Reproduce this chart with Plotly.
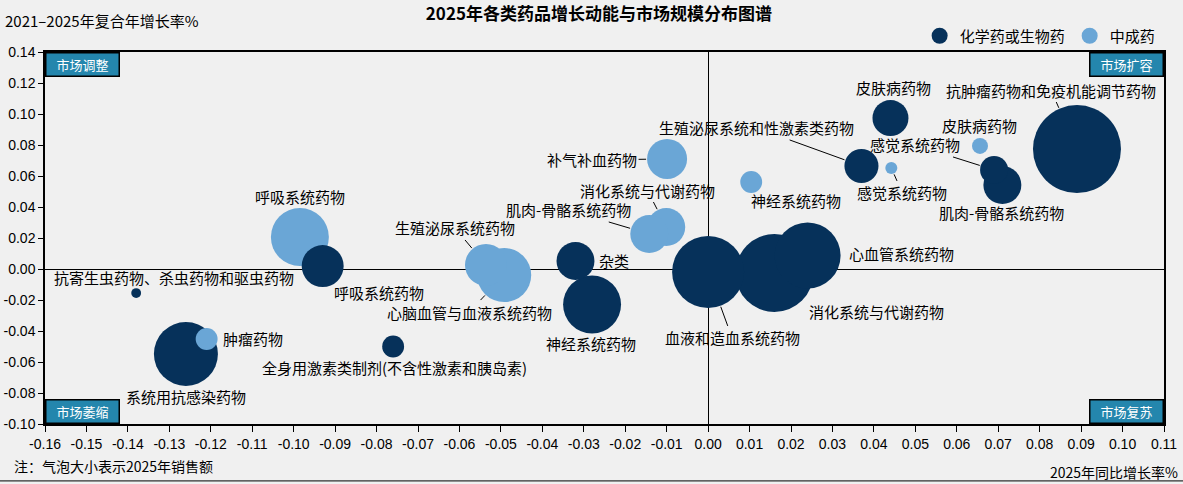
import plotly.graph_objects as go

# ---------------- data ----------------
chem_names = ["抗寄生虫药物、杀虫药物和驱虫药物", "系统用抗感染药物", "呼吸系统药物",
              "全身用激素类制剂(不含性激素和胰岛素)", "杂类", "神经系统药物",
              "血液和造血系统药物", "消化系统与代谢药物", "心血管系统药物",
              "生殖泌尿系统和性激素类药物", "皮肤病药物", "感觉系统药物",
              "肌肉-骨骼系统药物", "抗肿瘤药物和免疫机能调节药物"]
chem_yoy = [-0.138, -0.126, -0.093, -0.076, -0.032, -0.028, 0.000, 0.016, 0.024,
            0.037, 0.044, 0.069, 0.071, 0.089]
chem_cagr = [-0.0155, -0.0548, 0.0019, -0.0500, 0.0052, -0.0229, -0.0019, -0.0026, 0.0087,
             0.0665, 0.0974, 0.0639, 0.0542, 0.0774]
chem_sales = [12, 512, 220, 60, 180, 420, 648, 760, 545, 145, 162, 98, 180, 968]

tcm_names = ["肿瘤药物", "呼吸系统药物", "生殖泌尿系统药物", "心脑血管与血液系统药物",
             "补气补血药物", "消化系统与代谢药物", "肌肉-骨骼系统药物", "神经系统药物",
             "感觉系统药物", "皮肤病药物"]
tcm_yoy = [-0.121, -0.0985, -0.0536, -0.0492, -0.0099, -0.0101, -0.0142, 0.0104, 0.0442, 0.0656]
tcm_cagr = [-0.0452, 0.0206, 0.0026, -0.0039, 0.0710, 0.0271, 0.0226, 0.0561, 0.0652, 0.0794]
tcm_sales = [60, 420, 220, 365, 200, 180, 180, 60, 18, 32]

x_tickvals = [round(-0.16 + 0.01 * i, 2) for i in range(28)]
x_ticktext = ["-0.16", "-0.15", "-0.14", "-0.13", "-0.12", "-0.11", "-0.10", "-0.09", "-0.08",
              "-0.07", "-0.06", "-0.05", "-0.04", "-0.03", "-0.02", "-0.01", "0.00", "0.01",
              "0.02", "0.03", "0.04", "0.05", "0.06", "0.07", "0.08", "0.09", "0.10", "0.11"]
y_tickvals = [round(-0.10 + 0.02 * i, 2) for i in range(13)]
y_ticktext = ["-0.10", "-0.08", "-0.06", "-0.04", "-0.02", "0.00", "0.02", "0.04", "0.06",
              "0.08", "0.10", "0.12", "0.14"]

# ---------------- style ----------------
DARK = "#06315A"
LIGHT = "#6AA6D6"
TEAL = "#2486AD"
BG = "#F0F0F0"
CJK = "Noto Sans CJK SC"
NUM = "Liberation Sans"
SIZEREF = 0.25

# label placement (pixel offsets from bubble centre): (dx, dy_down, leader)
chem_lbl = [(38, -16, False), (0, 43, False), (56, 26, False), (1, 21, False), (39, 0, False),
            (-1, 39, False), (24, 66, True), (102, 38, False), (94, -2, False),
            (-105, -38, True), (3, -31, False), (-79, -25, True), (-1, 28, False),
            (-26, -59, True)]
tcm_lbl = [(46, -1, False), (0, -41, False), (-31, -37, True), (-35, 37, True),
           (-75, 1, True), (-19, -37, True), (-81, -24, True), (45, 18, False),
           (11, 25, True), (0, -20, False)]

# combine, draw larger bubbles first
pts = []
for n, x, y, s in zip(chem_names, chem_yoy, chem_cagr, chem_sales):
    pts.append((n, x, y, s, DARK))
for n, x, y, s in zip(tcm_names, tcm_yoy, tcm_cagr, tcm_sales):
    pts.append((n, x, y, s, LIGHT))
pts.sort(key=lambda p: -p[3])

fig = go.Figure()
fig.add_trace(go.Scatter(
    x=[p[1] for p in pts], y=[p[2] for p in pts], mode="markers",
    text=[p[0] for p in pts], showlegend=False,
    marker=dict(size=[p[3] for p in pts], sizemode="area", sizeref=SIZEREF,
                color=[p[4] for p in pts], line=dict(width=0), opacity=1),
    hovertemplate="%{text}<br>%{x}, %{y}<extra></extra>"))
# legend entries
fig.add_trace(go.Scatter(x=[None], y=[None], mode="markers", name="化学药或生物药",
                         marker=dict(size=18, color=DARK)))
fig.add_trace(go.Scatter(x=[None], y=[None], mode="markers", name="中成药",
                         marker=dict(size=18, color=LIGHT)))

annos = []
def add_labels(names, xs, ys, sales, lbl):
    for n, x, y, s, (dx, dy, leader) in zip(names, xs, ys, sales, lbl):
        r = (s / (2 * SIZEREF)) ** 0.5  # bubble radius in px
        if leader:
            annos.append(dict(x=x, y=y, xref="x", yref="y", text=n, showarrow=True,
                              ax=dx, ay=dy, arrowhead=0, arrowwidth=1, arrowcolor="#000",
                              standoff=r + 1, font=dict(family=CJK, size=15, color="#000")))
        else:
            annos.append(dict(x=x, y=y, xref="x", yref="y", text=n, showarrow=False,
                              xshift=dx, yshift=-dy, font=dict(family=CJK, size=15, color="#000")))

add_labels(chem_names, chem_yoy, chem_cagr, chem_sales, chem_lbl)
add_labels(tcm_names, tcm_yoy, tcm_cagr, tcm_sales, tcm_lbl)

# quadrant boxes
for txt, x, y, xa, ya in [("市场调整", 0, 1, "left", "top"), ("市场扩容", 1, 1, "right", "top"),
                          ("市场萎缩", 0, 0, "left", "bottom"), ("市场复苏", 1, 0, "right", "bottom")]:
    annos.append(dict(x=x, y=y, xref="x domain", yref="y domain", xanchor=xa, yanchor=ya,
                      text=txt, showarrow=False, bgcolor=TEAL, bordercolor="#000",
                      borderwidth=1.5, borderpad=1, width=70, height=20,
                      font=dict(family=CJK, size=13, color="#FFFFFF")))

annos.append(dict(x=-0.0375, y=1.086, xref="paper", yref="paper", xanchor="left", yanchor="middle",
                  text="2021–2025年复合年增长率%", showarrow=False,
                  font=dict(family=CJK, size=15, color="#000")))
annos.append(dict(x=-0.0295, y=-0.113, xref="paper", yref="paper", xanchor="left", yanchor="middle",
                  text="注：气泡大小表示2025年销售额", showarrow=False,
                  font=dict(family=CJK, size=14, color="#000")))
annos.append(dict(x=1.0143, y=-0.129, xref="paper", yref="paper", xanchor="right", yanchor="middle",
                  text="2025年同比增长率%", showarrow=False,
                  font=dict(family=CJK, size=14, color="#000")))

fig.update_layout(
    width=1183, height=484,
    margin=dict(l=45, r=19, t=52, b=60, autoexpand=False),
    paper_bgcolor=BG, plot_bgcolor=BG,
    title=dict(text="<b>2025年各类药品增长动能与市场规模分布图谱</b>", x=0.495, xref="paper",
               xanchor="center", y=0.971, yanchor="middle",
               font=dict(family=CJK, size=17, color="#000")),
    legend=dict(orientation="h", x=0.997, xanchor="right", y=1.043, yanchor="middle",
                font=dict(family=CJK, size=15, color="#000"), bgcolor="rgba(0,0,0,0)",
                itemsizing="trace"),
    annotations=annos,
    shapes=[dict(type="line", xref="paper", yref="paper", x0=-45 / 1119, x1=1138 / 1119,
                 y0=-0.153, y1=-0.153, line=dict(color="#000", width=1))],
    xaxis=dict(range=[-0.16, 0.11], tickvals=x_tickvals, ticktext=x_ticktext, automargin=False,
               showgrid=False, zeroline=True, zerolinecolor="#000", zerolinewidth=1,
               showline=True, mirror=True, linecolor="#000", linewidth=1.5,
               ticks="outside", ticklen=6, tickcolor="#000",
               tickfont=dict(family=NUM, size=14, color="#000")),
    yaxis=dict(range=[-0.10, 0.14], tickvals=y_tickvals, ticktext=y_ticktext, automargin=False,
               showgrid=False, zeroline=True, zerolinecolor="#000", zerolinewidth=1,
               showline=True, mirror=True, linecolor="#000", linewidth=1.5,
               ticks="outside", ticklen=5, tickcolor="#000",
               tickfont=dict(family=NUM, size=14, color="#000")),
)

fig.write_html("out.html")
